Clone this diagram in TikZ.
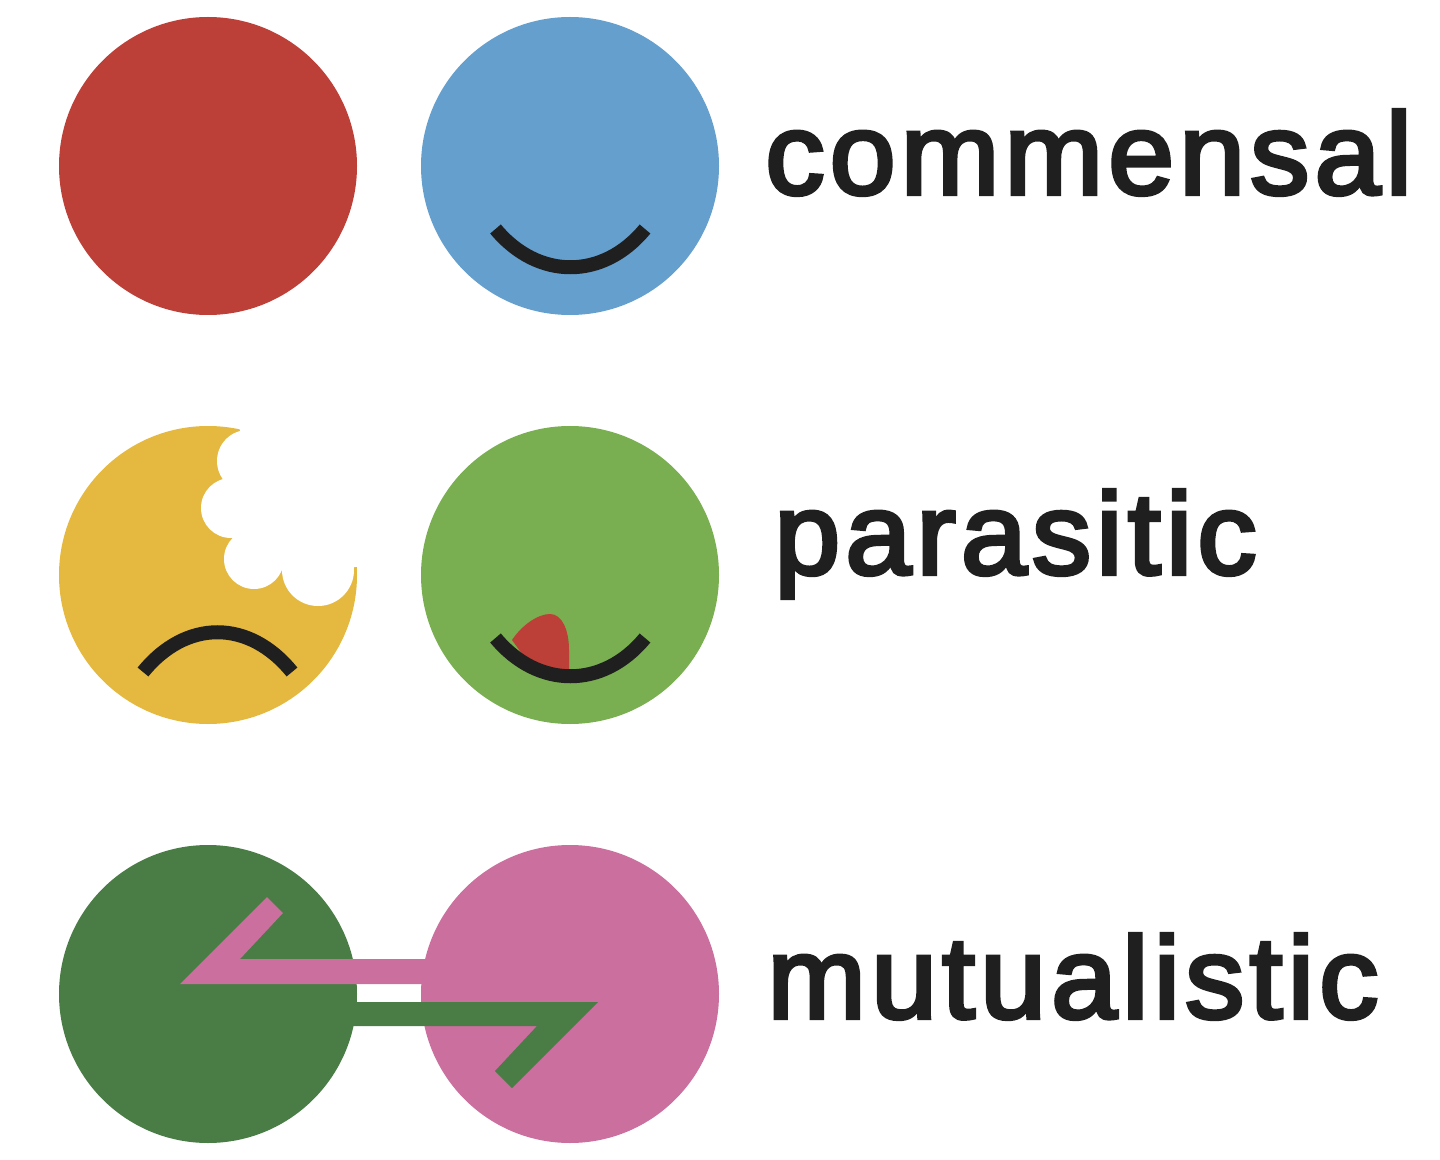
\documentclass[tikz,border=0pt]{standalone}
\usepackage{xcolor}
\usepackage{fontspec}
\setmainfont{Liberation Sans}[FakeBold=3.5, FakeStretch=1.02, LetterSpace=4.5]
\usepackage{tikz}
\definecolor{face-red}{HTML}{BC3F38}
\definecolor{face-blue}{HTML}{659FCD}
\definecolor{face-yellow}{HTML}{E5B83F}
\definecolor{face-green}{HTML}{79AF50}
\definecolor{face-dark}{HTML}{4A7C45}
\definecolor{face-pink}{HTML}{CA6F9E}
\colorlet{mouth-color}{black!88}
\tikzset{
    face/.style = {circle, minimum size=149pt, inner sep=0pt, fill=#1},
    word/.style = {anchor=base west, inner sep=0pt, text=mouth-color, font=\fontsize{58}{60}\selectfont},
    pics/smile/.style = {
        code = {%
        \draw[mouth-color, line width=7pt] (-74.5,63) .. controls (-32,114) and (33,114) .. (75,63);
        }
    },
    pics/frown/.style = {
        code = {%
        \draw[mouth-color, line width=7pt] (-65,97) .. controls (-22,44) and (41,44) .. (84,97);
        }
    },
}
\begin{document}
\begin{tikzpicture}[x=0.5pt,y=-0.5pt]
\useasboundingbox (0,0) rectangle (1440,1160);

\node[face=face-red] (red) at (208,166) {};
\node[face=face-blue] (blue) at (570,166) {};
\node[face=face-yellow] (yellow) at (208,575) {};
\node[face=face-green] (green) at (570,575) {};
\node[face=face-dark] (dark) at (208,994) {};
\node[face=face-pink] (pink) at (570,994) {};

% the bite
\fill[white] (238,424) -- (362,424) -- (362,566) -- (315,573) -- (253,560) -- (230,508) -- (247,453) -- cycle;
\fill[white] (248,461) circle (31);
\fill[white] (231,508) circle (30);
\fill[white] (254,559) circle (30);
\fill[white] (318,570) circle (36);

\pic at (blue.center) {smile};
\fill[face-red] (512,640) .. controls (522,625) and (538,614) .. (550,614)
    .. controls (562,614) and (569,630) .. (569,650) -- (569,672) -- (530,665) -- cycle;
\pic at (green.center) {smile};
\pic at (yellow.center) {frown};

% the two arrows
\fill[face-pink] (180,984) -- (267,897) -- (283,913) -- (240,959) -- (430,959) -- (430,984) -- cycle;
\fill[face-dark] (598,1002) -- (512,1088) -- (495,1071) -- (537,1026) -- (345,1026) -- (345,1002) -- cycle;

\node[word] (commensal) at (765,194) {commensal};
\node[word] (parasitic) at (774,574) {parasitic};
\node[word] (mutualistic) at (767,1018) {mutualistic};

\end{tikzpicture}
\end{document}
